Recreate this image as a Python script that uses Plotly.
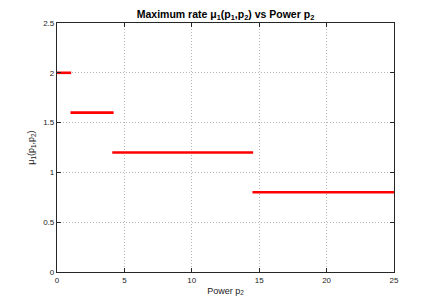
import plotly.graph_objects as go

# Data: piecewise-constant maximum rate vs power p2
seg_start = [0.0, 1.0, 4.1, 14.5]
seg_end = [1.05, 4.2, 14.55, 25.0]
rate_level = [2.0, 1.6, 1.2, 0.8]

x_ticks = [0, 5, 10, 15, 20, 25]
y_ticks = [0, 0.5, 1, 1.5, 2, 2.5]

FONT = "Liberation Sans, Arial, Helvetica, sans-serif"

fig = go.Figure()
for xs, xe, yv in zip(seg_start, seg_end, rate_level):
    fig.add_trace(go.Scatter(x=[xs, xe], y=[yv, yv], mode="lines",
                             line=dict(color="#ff0000", width=2.6),
                             showlegend=False, hoverinfo="skip"))

axis_common = dict(
    showgrid=True, gridcolor="#b4b4b4", griddash="1px,2px", gridwidth=1,
    showline=True, linecolor="#262626", linewidth=1.3, mirror="ticks",
    ticks="inside", ticklen=4, tickcolor="#262626",
    zeroline=False,
    tickfont=dict(family=FONT, size=8, color="#222222"),
)

fig.update_layout(
    width=436, height=306,
    margin=dict(l=57, r=42, t=23, b=34),
    paper_bgcolor="white", plot_bgcolor="white",
    title=dict(
        text="<b>Maximum rate μ<sub>1</sub>(p<sub>1</sub>,p<sub>2</sub>) vs Power p<sub>2</sub></b>",
        x=0.5, xref="paper", xanchor="center",
        y=1.0, yref="paper", yanchor="bottom", pad=dict(b=5),
        font=dict(family=FONT, size=10.5, color="black"),
    ),
    xaxis=dict(range=[0, 25], tickvals=x_ticks, ticktext=[str(v) for v in x_ticks],
               title=dict(text="Power p<sub>2</sub>", standoff=3,
                          font=dict(family=FONT, size=9, color="#222222")),
               **axis_common),
    yaxis=dict(range=[0, 2.5], tickvals=y_ticks, ticktext=[str(v) for v in y_ticks],
               title=dict(text="μ<sub>1</sub>(p<sub>1</sub>,p<sub>2</sub>)", standoff=6,
                          font=dict(family=FONT, size=9, color="#222222")),
               **axis_common),
)

# remove the browser's default 8px body margin so the figure sits at (0,0)
fig.write_html("out.html", config={"displayModeBar": False},
               post_script="document.body.style.margin='0';")
